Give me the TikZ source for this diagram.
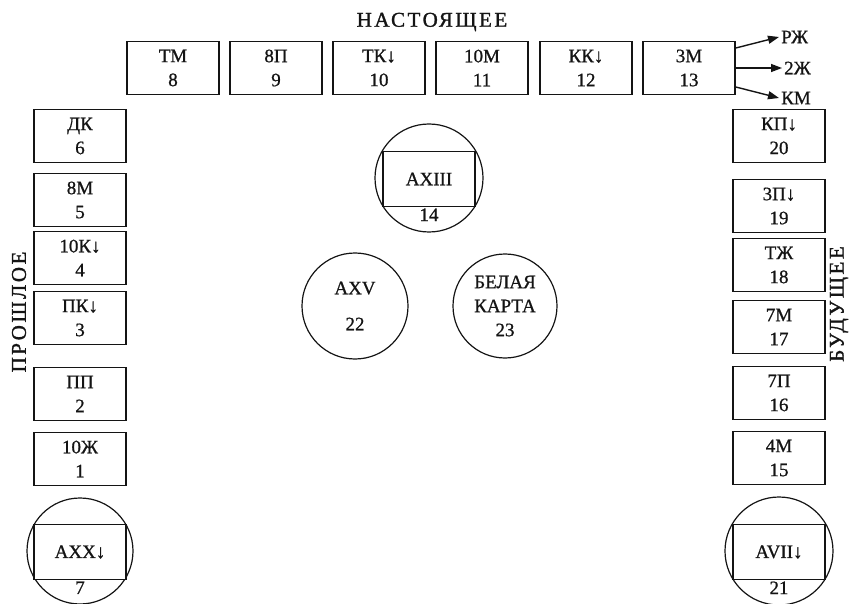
\documentclass[tikz,border=0pt]{standalone}
\usepackage{fontspec}
\setmainfont{Liberation Serif}[FakeBold=0.8]
\usetikzlibrary{arrows.meta,positioning}
\usepackage{xcolor}
\definecolor{tarInk}{HTML}{141414}

\begin{document}
\begin{tikzpicture}[x=1pt, y=-1pt, line cap=round, text=tarInk,
    font=\fontsize{19}{24}\selectfont,
    card/.style={draw=tarInk, fill=white, line width=1.6pt, align=center,
                 minimum width=92pt, minimum height=53pt, inner sep=0pt},
    ring/.style={draw=tarInk, line width=1.2pt, circle, align=center,
                 minimum size=106pt, inner sep=0pt},
    spaced/.style={font=\fontsize{21}{24}\selectfont\addfontfeature{LetterSpace=12,FakeBold=1.4}},
    branch/.style={draw=tarInk, line width=1.4pt,
                   -{Triangle[length=11pt,width=8pt]}}]

% page frame (849 x 604)
\useasboundingbox (0,0) rectangle (849,604);

% dimensions
\def\xL{80}     % left column
\def\xR{779}    % right column
\def\yT{68}     % top row

% --- headings ---
\node[spaced] (now) at (432,22) {НАСТОЯЩЕЕ};
\node[spaced, rotate=90] (past) at (19,312) {ПРОШЛОЕ};
\node[spaced, rotate=90] (next) at (839,304) {БУДУЩЕЕ};

% --- top row: present ---
\foreach \lab/\num/\xx in {ТМ/8/173, 8П/9/276, ТК↓/10/379,
                           10М/11/482, КК↓/12/586, 3М/13/689} {
  \node[card] (c\num) at (\xx,\yT) {\lab\\\num};
}

% --- left column: past ---
\foreach \lab/\num/\yy in {ДК/6/136, 8М/5/200, 10К↓/4/258,
                           ПК↓/3/318, ПП/2/394, 10Ж/1/459} {
  \node[card] (c\num) at (\xL,\yy) {\lab\\\num};
}

% --- right column: future ---
\foreach \lab/\num/\yy in {КП↓/20/136, 3П↓/19/206, ТЖ/18/265,
                           7М/17/327, 7П/16/393, 4М/15/458} {
  \node[card] (c\num) at (\xR,\yy) {\lab\\\num};
}

% --- ringed cards ---
\node[ring] (r7) at (\xL,551) {};
\node[card, minimum height=55pt] (c7) at (\xL,552) {AXX↓};
\node[below=1pt of c7, inner sep=0pt] (n7) {7};

\node[ring, minimum size=108pt] (r21) at (\xR,551) {};
\node[card, minimum height=55pt] (c21) at (\xR,552) {AVII↓};
\node[below=1pt of c21, inner sep=0pt] (n21) {21};

\node[ring, minimum size=108pt] (r14) at (429,178) {};
\node[card, minimum height=55pt] (c14) at (429,179) {AXIII};
\node[below=1pt of c14, inner sep=0pt] (n14) {14};

% --- free rings ---
\node[ring] (r22) at (355,306) {AXV\\[12pt]22};
\node[ring, minimum size=104pt] (r23) at (505,306) {БЕЛАЯ\\КАРТА\\23};

% --- outcomes of 13 ---
\node[anchor=west, inner sep=2pt] (rz) at (779,37) {РЖ};
\node[anchor=west, inner sep=2pt] (dz) at (782,68) {2Ж};
\node[anchor=west, inner sep=2pt] (km) at (779,98) {КМ};
\draw[branch] ([yshift=20pt]c13.east) -- (rz.west);
\draw[branch] (c13.east) -- (dz.west);
\draw[branch] ([yshift=-19pt]c13.east) -- (km.west);

\end{tikzpicture}
\end{document}
